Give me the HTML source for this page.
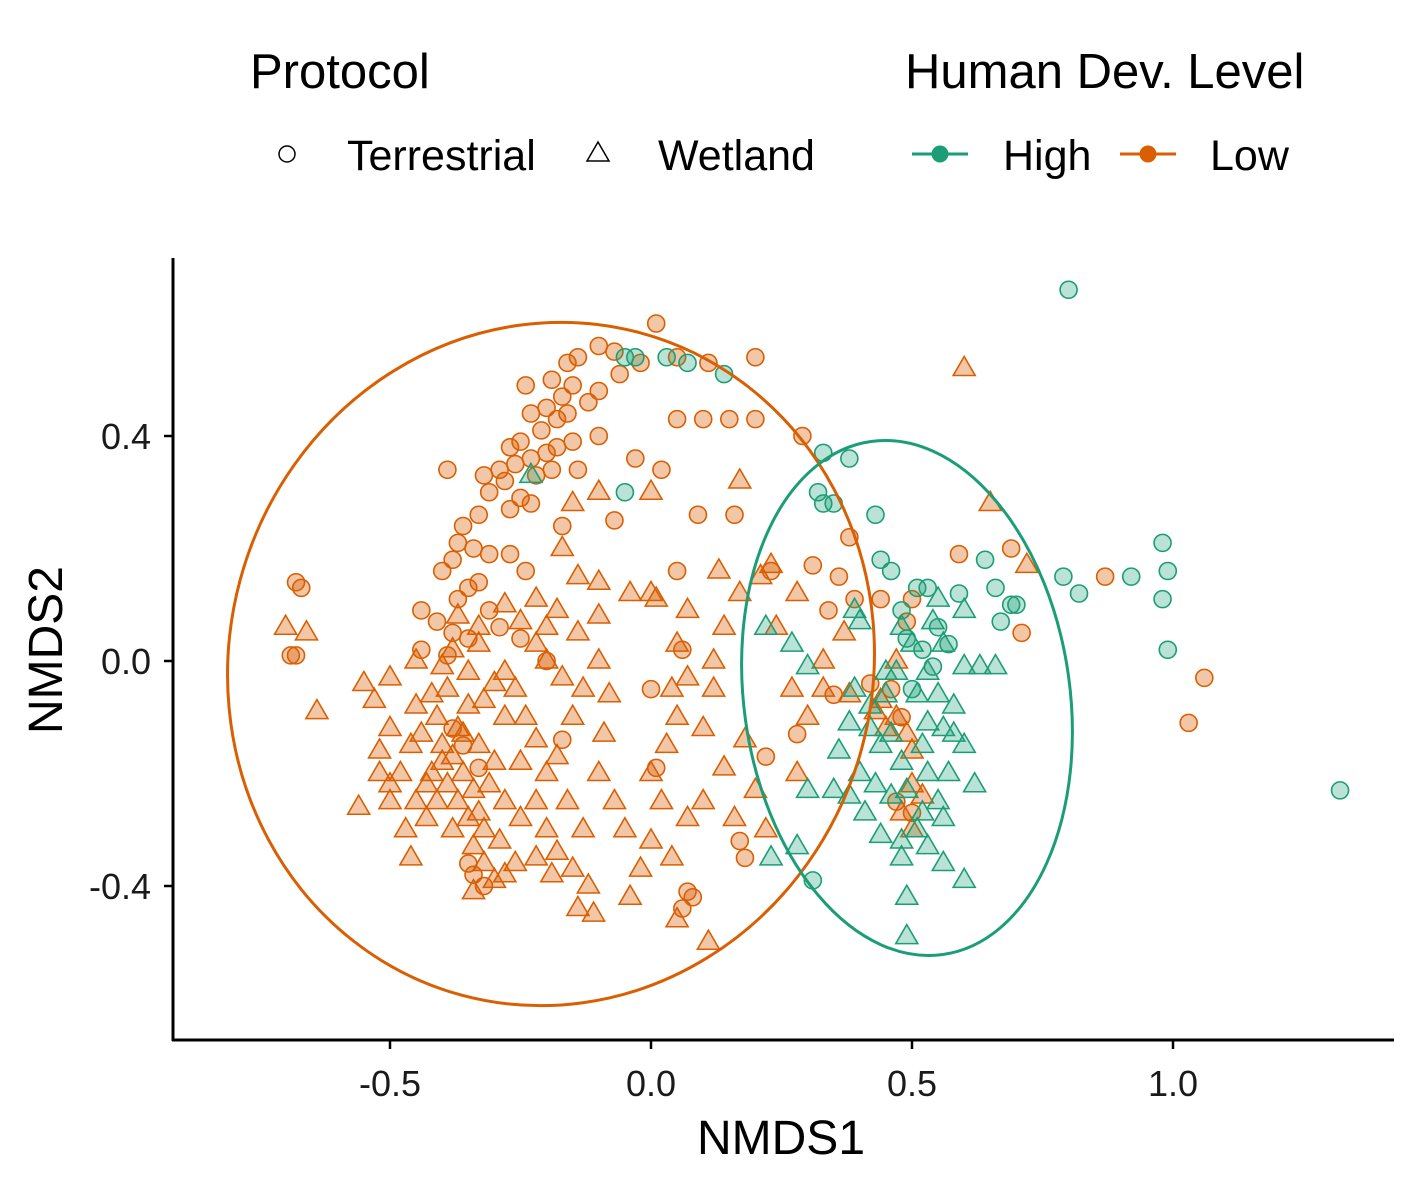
<!DOCTYPE html>
<html><head><meta charset="utf-8"><style>
html,body{margin:0;padding:0;background:#fff;}
svg{display:block;font-family:"Liberation Sans",Arial,sans-serif;}
</style></head><body>
<svg id="chart" width="1417" height="1181" viewBox="0 0 1417 1181">
<g>
<text x="250" y="88" font-size="49">Protocol</text>
<text x="905" y="88" font-size="49">Human Dev. Level</text>
<g><circle cx="287" cy="154" r="8" fill="none" stroke="#000" stroke-width="1.5"/><text x="347" y="170" font-size="43">Terrestrial</text></g>
<g><polygon points="598,142 609,161 587,161" fill="none" stroke="#000" stroke-width="1.5"/><text x="658" y="170" font-size="43">Wetland</text></g>
<g><line x1="912" y1="154" x2="968" y2="154" stroke="#1b9e77" stroke-width="3"/><circle cx="940" cy="154" r="8.5" fill="#1b9e77"/><text x="1003" y="170" font-size="43">High</text></g>
<g><line x1="1120" y1="154" x2="1176" y2="154" stroke="#d95f02" stroke-width="3"/><circle cx="1148" cy="154" r="8.5" fill="#d95f02"/><text x="1210" y="170" font-size="43">Low</text></g>
</g>
<g id="marks"></g>
<ellipse cx="551" cy="664" rx="322" ry="343" transform="rotate(15 551 664)" fill="none" stroke="#d95f02" stroke-width="3"/>
<ellipse cx="907" cy="698" rx="163" ry="259" transform="rotate(-8 907 698)" fill="none" stroke="#1b9e77" stroke-width="3"/>
<line x1="173" y1="258" x2="173" y2="1041" stroke="#000" stroke-width="3"/>
<line x1="172" y1="1040" x2="1394" y2="1040" stroke="#000" stroke-width="3"/>
<g id="ticks"></g>
<text x="781" y="1154" font-size="48" text-anchor="middle">NMDS1</text>
<text transform="translate(62 650) rotate(-90)" font-size="48" text-anchor="middle">NMDS2</text>
</svg>
<script>
const xTicks=[-0.5,0.0,0.5,1.0];
const xTickLabels=["-0.5","0.0","0.5","1.0"];
const yTicks=[-0.4,0.0,0.4];
const yTickLabels=["-0.4","0.0","0.4"];
const lowCircX=[0.01,-0.10,-0.07,-0.14,-0.16,-0.02,-0.06,-0.19,-0.24,-0.10,-0.15,-0.17,-0.20,-0.23,-0.12,-0.16,-0.18,-0.21,-0.25,-0.27,-0.10,-0.15,-0.18,-0.20,-0.23,-0.26,-0.29,-0.22,-0.19,-0.32,-0.28,-0.25,-0.31,-0.23,-0.27,-0.33,-0.14,-0.17,-0.36,-0.37,-0.34,-0.38,-0.40,-0.31,-0.27,-0.24,-0.33,-0.35,-0.37,-0.44,-0.41,-0.38,-0.35,-0.44,-0.39,-0.29,-0.25,-0.20,-0.31,0.05,0.11,0.20,0.05,0.10,0.15,0.20,0.29,0.09,0.16,0.05,0.23,0.31,0.38,0.36,0.39,0.28,0.22,0.00,0.01,0.17,0.18,0.07,0.08,0.06,-0.32,-0.17,0.44,0.50,0.49,0.59,0.69,0.71,0.87,1.06,1.03,-0.68,-0.69,-0.67,-0.68,-0.07,0.06,-0.39,-0.03,0.02,0.42,0.46,0.48,0.50,0.47,-0.38,-0.36,-0.33,-0.34,-0.35,0.34,0.35];
const lowCircY=[0.60,0.56,0.55,0.54,0.53,0.53,0.51,0.50,0.49,0.48,0.49,0.47,0.45,0.44,0.46,0.44,0.43,0.41,0.39,0.38,0.40,0.39,0.38,0.37,0.36,0.35,0.34,0.33,0.34,0.33,0.32,0.29,0.30,0.28,0.27,0.26,0.34,0.24,0.24,0.21,0.20,0.18,0.16,0.19,0.19,0.16,0.14,0.13,0.11,0.09,0.07,0.05,0.04,0.02,0.01,0.06,0.04,0.00,0.09,0.54,0.53,0.54,0.43,0.43,0.43,0.43,0.40,0.26,0.26,0.16,0.16,0.17,0.22,0.15,0.11,-0.13,-0.17,-0.05,-0.19,-0.32,-0.35,-0.41,-0.42,-0.44,-0.40,-0.14,0.11,0.11,0.07,0.19,0.20,0.05,0.15,-0.03,-0.11,0.01,0.01,0.13,0.14,0.25,0.02,0.34,0.36,0.34,-0.04,-0.05,-0.10,-0.27,-0.25,-0.12,-0.15,-0.19,-0.38,-0.36,0.09,-0.06];
const lowTriX=[-0.40,-0.38,-0.42,-0.36,-0.39,-0.34,-0.41,-0.37,-0.33,-0.40,-0.43,-0.35,-0.38,-0.32,-0.44,-0.46,-0.48,-0.50,-0.52,-0.45,-0.43,-0.36,-0.33,-0.30,-0.31,-0.28,-0.29,-0.34,-0.37,-0.41,-0.45,-0.50,-0.53,-0.55,-0.52,-0.47,-0.42,-0.39,-0.35,-0.32,-0.28,-0.30,-0.35,-0.40,-0.45,-0.38,-0.33,-0.28,-0.26,-0.24,-0.22,-0.25,-0.20,-0.22,-0.25,-0.20,-0.18,-0.22,-0.26,-0.32,-0.30,-0.19,-0.15,-0.13,-0.16,-0.18,-0.15,-0.13,-0.17,-0.20,-0.22,-0.25,-0.28,-0.33,-0.37,-0.22,-0.18,-0.20,-0.14,-0.10,-0.10,-0.08,-0.09,-0.10,-0.07,-0.05,-0.12,-0.14,-0.11,-0.04,-0.02,0.00,0.02,0.00,0.03,0.05,0.07,0.05,0.07,0.01,-0.04,-0.10,-0.14,-0.17,-0.15,-0.10,0.00,0.17,0.13,0.21,0.23,0.17,0.14,0.12,0.12,0.10,0.14,0.18,0.20,0.16,0.10,0.07,0.04,0.05,0.11,0.22,0.28,0.30,0.27,0.33,0.24,0.28,0.33,0.38,0.37,0.44,0.45,0.47,0.49,0.43,0.47,0.50,0.50,0.52,0.48,0.50,0.60,0.65,0.72,-0.50,-0.64,-0.70,-0.66,-0.56,-0.50,-0.46,-0.34,-0.28,0.00,0.04];
const lowTriY=[-0.15,-0.17,-0.20,-0.20,-0.22,-0.23,-0.25,-0.25,-0.27,-0.18,-0.22,-0.28,-0.30,-0.30,-0.13,-0.15,-0.20,-0.22,-0.16,-0.25,-0.28,-0.13,-0.15,-0.18,-0.22,-0.25,-0.32,-0.33,-0.12,-0.10,-0.08,-0.12,-0.07,-0.04,-0.20,-0.30,-0.06,-0.05,-0.08,-0.07,-0.10,-0.04,-0.02,-0.01,0.00,0.02,0.03,-0.02,-0.05,-0.10,-0.14,-0.18,-0.20,-0.25,-0.28,-0.30,-0.34,-0.35,-0.36,-0.36,-0.39,-0.38,-0.37,-0.30,-0.25,-0.17,-0.10,-0.05,-0.03,0.00,0.03,0.07,0.10,0.06,0.08,0.11,0.09,0.06,0.05,0.08,0.00,-0.06,-0.13,-0.20,-0.25,-0.30,-0.40,-0.44,-0.45,-0.42,-0.37,-0.32,-0.25,-0.20,-0.15,-0.10,-0.03,0.03,0.09,0.11,0.12,0.14,0.15,0.20,0.28,0.30,0.30,0.32,0.16,0.15,0.17,0.12,0.06,0.00,-0.05,-0.12,-0.19,-0.14,-0.23,-0.28,-0.25,-0.28,-0.35,-0.46,-0.50,-0.30,-0.20,-0.10,-0.05,-0.05,0.06,0.12,0.00,-0.06,0.05,-0.07,-0.12,-0.10,-0.13,-0.09,0.00,-0.16,-0.22,-0.24,-0.27,-0.30,0.52,0.28,0.17,-0.03,-0.09,0.06,0.05,-0.26,-0.25,-0.35,-0.41,-0.38,0.12,-0.05];
const highCircX=[0.80,-0.05,-0.03,0.03,0.07,0.14,0.33,0.38,0.32,0.33,0.35,0.43,0.44,0.46,0.51,0.53,0.55,0.52,0.57,0.59,0.64,0.66,0.69,0.67,0.79,0.82,0.92,0.98,0.99,0.98,0.99,1.32,0.31,0.48,0.49,0.54,0.50,-0.05,0.70];
const highCircY=[0.66,0.54,0.54,0.54,0.53,0.51,0.37,0.36,0.30,0.28,0.28,0.26,0.18,0.16,0.13,0.13,0.06,0.02,0.03,0.12,0.18,0.13,0.10,0.07,0.15,0.12,0.15,0.21,0.16,0.11,0.02,-0.23,-0.39,0.09,0.04,-0.01,-0.05,0.30,0.10];
const highTriX=[0.55,0.60,0.54,0.48,0.50,0.56,0.60,0.63,0.66,0.53,0.47,0.51,0.55,0.45,0.39,0.42,0.46,0.53,0.56,0.58,0.52,0.48,0.44,0.42,0.38,0.36,0.40,0.43,0.46,0.49,0.53,0.57,0.55,0.52,0.56,0.51,0.48,0.44,0.41,0.38,0.35,0.30,0.28,0.23,0.56,0.60,0.49,0.49,0.62,0.60,0.58,0.39,0.40,0.27,0.30,0.22,0.48,0.53,0.45,-0.23];
const highTriY=[0.11,0.09,0.07,0.06,0.03,0.03,-0.01,-0.01,-0.01,-0.02,-0.02,-0.06,-0.06,-0.06,-0.05,-0.08,-0.13,-0.11,-0.12,-0.13,-0.15,-0.18,-0.15,-0.12,-0.11,-0.16,-0.20,-0.22,-0.24,-0.23,-0.20,-0.20,-0.25,-0.27,-0.28,-0.30,-0.32,-0.31,-0.27,-0.24,-0.23,-0.23,-0.33,-0.35,-0.36,-0.39,-0.42,-0.49,-0.22,-0.15,-0.08,0.09,0.07,0.03,-0.01,0.06,-0.35,-0.33,-0.02,0.33];

const NS="http://www.w3.org/2000/svg";
function xs(v){return 651+v*522;}
function ys(v){return 661-v*562.5;}
const marks=document.getElementById('marks');
const ticks=document.getElementById('ticks');
function circ(x,y,col,fill,name){
  const c=document.createElementNS(NS,'circle');
  c.setAttribute('cx',xs(x));c.setAttribute('cy',ys(y));c.setAttribute('r',8.5);
  c.setAttribute('fill',fill);c.setAttribute('stroke',col);c.setAttribute('stroke-width',1.6);
  
  
  marks.appendChild(c);
}
function tri(x,y,col,fill,name){
  const px=xs(x),py=ys(y);
  const p=document.createElementNS(NS,'polygon');
  p.setAttribute('points',`${px},${py-12} ${px+11},${py+7} ${px-11},${py+7}`);
  p.setAttribute('fill',fill);p.setAttribute('stroke',col);p.setAttribute('stroke-width',1.6);
  
  
  marks.appendChild(p);
}
const OR='#d95f02',ORF='rgba(217,95,2,0.35)',TE='#1b9e77',TEF='rgba(27,158,119,0.3)';
lowTriX.forEach((x,i)=>tri(x,lowTriY[i],OR,ORF,'low-wetland-point'));
lowCircX.forEach((x,i)=>circ(x,lowCircY[i],OR,ORF,'low-terrestrial-point'));
highTriX.forEach((x,i)=>tri(x,highTriY[i],TE,TEF,'high-wetland-point'));
highCircX.forEach((x,i)=>circ(x,highCircY[i],TE,TEF,'high-terrestrial-point'));
xTicks.forEach((v,i)=>{
  const l=document.createElementNS(NS,'line');
  l.setAttribute('x1',xs(v));l.setAttribute('x2',xs(v));l.setAttribute('y1',1040);l.setAttribute('y2',1049);
  l.setAttribute('stroke','#000');l.setAttribute('stroke-width',2.5);
  
  
  ticks.appendChild(l);
  const t=document.createElementNS(NS,'text');
  t.setAttribute('x',xs(v));t.setAttribute('y',1096);t.setAttribute('font-size',36);t.setAttribute('text-anchor','middle');t.setAttribute('fill','#1a1a1a');
  t.textContent=xTickLabels[i];
  
  
  ticks.appendChild(t);
});
yTicks.forEach((v,i)=>{
  const l=document.createElementNS(NS,'line');
  l.setAttribute('x1',164);l.setAttribute('x2',173);l.setAttribute('y1',ys(v));l.setAttribute('y2',ys(v));
  l.setAttribute('stroke','#000');l.setAttribute('stroke-width',2.5);
  
  
  ticks.appendChild(l);
  const t=document.createElementNS(NS,'text');
  t.setAttribute('x',151);t.setAttribute('y',ys(v)+13);t.setAttribute('font-size',36);t.setAttribute('text-anchor','end');t.setAttribute('fill','#1a1a1a');
  t.textContent=yTickLabels[i];
  
  
  ticks.appendChild(t);
});
</script>
</body></html>
